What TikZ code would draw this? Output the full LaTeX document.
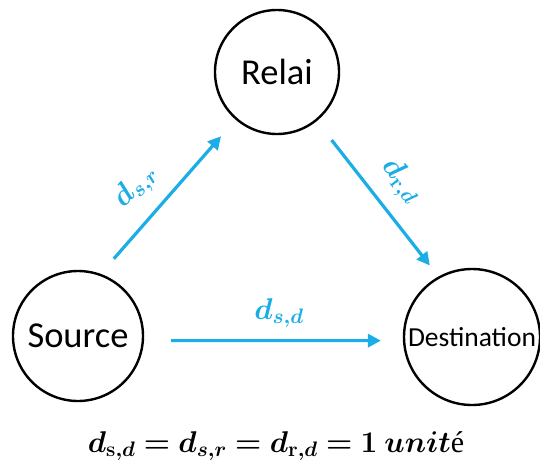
\RequirePackage{fix-cm}
\documentclass[tikz,border=0pt]{standalone}
\usepackage{amsmath,amssymb,bm}
\usepackage[no-math]{fontspec}
\setmainfont{Carlito}
\newfontfamily\serifé{Liberation Serif}
\usepackage{tikz}
\usetikzlibrary{arrows.meta, positioning}
\definecolor{linkblue}{HTML}{1AADE6}

\tikzset{
    station/.style={draw=black, line width=2.4pt, circle, inner sep=0pt, font=\fontsize{36.5}{42}\selectfont},
    link/.style={draw=linkblue, line width=3.2pt, -{Triangle[length=13pt,width=13pt]}},
    dist/.style={text=linkblue, font=\fontsize{30}{34}\selectfont}
}

\begin{document}
\begin{tikzpicture}[x=1pt, y=-1pt]
    \useasboundingbox (0,0) rectangle (540,469);
    % Stations
    \node[station, minimum size=124pt] (relai) at (277, 72) {Relai};
    \node[station, minimum size=130pt] (source) at (78, 336) {Source};
    \node[station, minimum size=136pt, font=\fontsize{27.5}{32}\selectfont] (dest) at (472, 337) {Destination};
    % Links
    \draw[link, shorten <=20pt, shorten >=22pt] (source.70) -- (relai.229);
    \draw[link, shorten <=24pt, shorten >=14pt] (relai.-51) -- (dest.119);
    \draw[link, shorten <=27pt, shorten >=22pt] (source.-4) -- (dest.183);
    % Distance labels
    \node[dist, rotate=46] (dsr) at (136, 187) {$\bm{d_{s,r}}$};
    \node[dist, rotate=-51] (drd) at (401, 181) {$\bm{d_{\mathbf{r},d}}$};
    \node[dist] (dsd) at (279, 313) {$\bm{d_{s,d}}$};
    % Equal distances
    \node[font=\fontsize{30}{34}\selectfont] (eq) at (276, 446)
        {$\bm{d_{\mathbf{s},d} = d_{s,r} = d_{\mathbf{r},d} = 1\ unit}${\serifé é}};
\end{tikzpicture}
\end{document}
